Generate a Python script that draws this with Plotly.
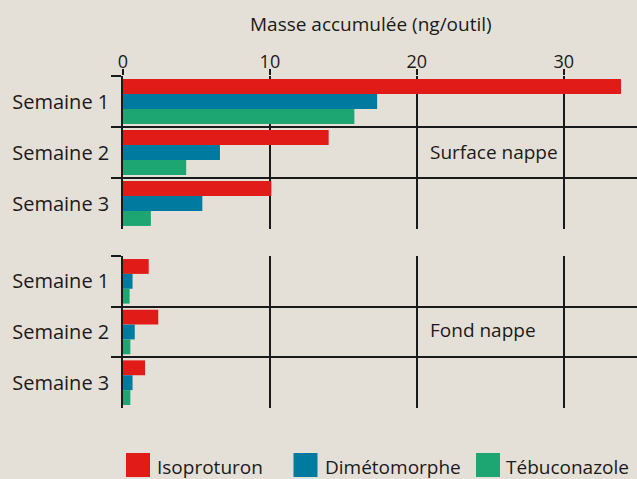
import plotly.graph_objects as go
from plotly.subplots import make_subplots

weeks = ["Semaine 1", "Semaine 2", "Semaine 3"]
series_names = ["Isoproturon", "Dimétomorphe", "Tébuconazole"]
colors = ["#E11B17", "#007B9F", "#1DA672"]

surface_iso = [33.9, 14.0, 10.1]
surface_dim = [17.3, 6.6, 5.4]
surface_teb = [15.75, 4.3, 1.9]

fond_iso = [1.75, 2.4, 1.5]
fond_dim = [0.65, 0.8, 0.65]
fond_teb = [0.45, 0.5, 0.5]

x_ticks = [0, 10, 20, 30]
x_title = "Masse accumulée (ng/outil)"
panel_labels = ["Surface nappe", "Fond nappe"]

BG = "#E5E0D7"
INK = "#1A1A1A"
FONT = "Open Sans"

W, H = 637, 479
ML, MR, MT, MB = 123, 0, 76, 71
PW = W - ML - MR
PH = H - MT - MB


def px_x(p):
    return (p - ML) / PW


def px_y(p):
    return (H - MB - p) / PH


fig = make_subplots(rows=2, cols=1, shared_xaxes=False, vertical_spacing=0.0)

top = [surface_iso, surface_dim, surface_teb]
bot = [fond_iso, fond_dim, fond_teb]
for i in range(3):
    fig.add_trace(go.Bar(y=weeks, x=top[i], orientation="h", name=series_names[i],
                         marker=dict(color=colors[i], line=dict(width=0)),
                         showlegend=False), row=1, col=1)
    fig.add_trace(go.Bar(y=weeks, x=bot[i], orientation="h", name=series_names[i],
                         marker=dict(color=colors[i], line=dict(width=0)),
                         showlegend=False), row=2, col=1)

xr = [0, (W - ML) / 14.69]
common_x = dict(range=xr, tickvals=x_ticks, showgrid=True, gridcolor=INK, gridwidth=1.5,
                zeroline=False, fixedrange=True)
fig.update_layout(
    xaxis=dict(**common_x, side="top", anchor="y", ticks="outside", ticklen=6, tickwidth=1.5,
               tickcolor=INK, showticklabels=True, tickfont=dict(family=FONT, size=18, color=INK),
               ticklabelstandoff=-6),
    xaxis2=dict(**common_x, anchor="y2", ticks="", showticklabels=False),
)
common_y = dict(type="category", categoryorder="array", categoryarray=weeks, autorange="reversed",
                tickson="boundaries", ticks="outside", ticklen=10, tickwidth=1.5, tickcolor=INK,
                showgrid=True, gridcolor=INK, gridwidth=1.5, showline=True, linecolor=INK,
                linewidth=1.5, tickfont=dict(family=FONT, size=20, color=INK),
                ticklabelstandoff=8, zeroline=False, fixedrange=True)
fig.update_layout(
    yaxis=dict(**common_y, domain=[px_y(229), 1.0]),
    yaxis2=dict(**common_y, domain=[0.0, px_y(256)]),
)

annotations = [
    dict(text=x_title, x=px_x(371), y=px_y(24), xref="paper", yref="paper", showarrow=False,
         xanchor="center", yanchor="middle", font=dict(family=FONT, size=19, color=INK)),
    dict(text=panel_labels[0], x=px_x(428), y=px_y(152), xref="paper", yref="paper",
         showarrow=False, xanchor="left", yanchor="middle", font=dict(family=FONT, size=19, color=INK)),
    dict(text=panel_labels[1], x=px_x(428), y=px_y(330), xref="paper", yref="paper",
         showarrow=False, xanchor="left", yanchor="middle", font=dict(family=FONT, size=19, color=INK)),
]

# legend drawn as squares + labels
sq_left = [126, 293.5, 476]
txt_left = [155, 322.5, 504]
shapes = []
for i in range(3):
    shapes.append(dict(type="rect", xref="paper", yref="paper",
                       x0=px_x(sq_left[i]), x1=px_x(sq_left[i] + 24),
                       y0=px_y(477), y1=px_y(453), fillcolor=colors[i], line=dict(width=0)))
    annotations.append(dict(text=series_names[i], x=px_x(txt_left[i]), y=px_y(467),
                            xref="paper", yref="paper", showarrow=False, xanchor="left",
                            yanchor="middle", font=dict(family=FONT, size=19, color=INK)))

fig.update_layout(
    width=W, height=H,
    margin=dict(l=ML, r=MR, t=MT, b=MB, pad=0),
    paper_bgcolor=BG, plot_bgcolor=BG,
    barmode="group", bargap=0.12, bargroupgap=0.0,
    showlegend=False,
    annotations=annotations, shapes=shapes,
    font=dict(family=FONT, color=INK),
)

fig.write_html("out.html", include_plotlyjs=True, config={"displayModeBar": False},
               post_script="document.body.style.margin='0';document.body.style.overflow='hidden';"
                           "document.body.style.background='" + BG + "';")
